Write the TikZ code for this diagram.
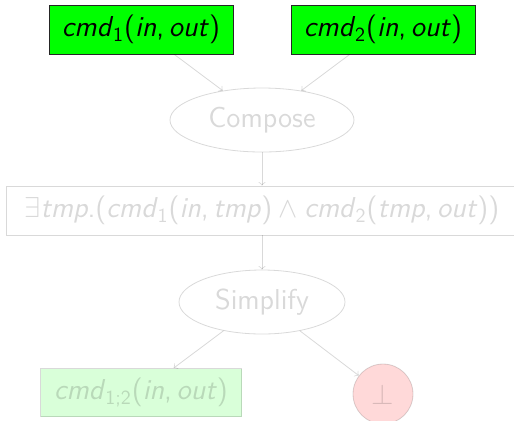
\documentclass[tikz,border=0pt]{standalone}
\usetikzlibrary{shapes.geometric}
\begin{document}
\begin{tikzpicture}[x=0.5pt,y=-0.5pt,
  font=\sffamily\fontsize{14.4}{17}\selectfont,
  hotbox/.style={draw=black!85, fill=green, minimum width=92pt, minimum height=24.5pt, inner sep=1pt},
  softbox/.style={draw=black, minimum height=24.5pt, inner sep=1pt},
  oval/.style={draw=black, ellipse, minimum height=32pt, inner sep=1pt},
  conn/.style={->, draw=black, line width=0.4pt}]
\useasboundingbox (0,0) rectangle (514,420);
\node[hotbox] (c1) at (141,29.5) {\textit{cmd}\textsubscript{1}(\textit{in},\hspace{2.4pt}\textit{out})};
\node[hotbox] (c2) at (383,29.5) {\textit{cmd}\textsubscript{2}(\textit{in},\hspace{2.4pt}\textit{out})};
\begin{scope}[opacity=0.15]
\node[oval, minimum width=92pt] (comp) at (262,120) {Compose};
\node[softbox, minimum width=256pt] (ex) at (262,210.5) {$\exists$\textit{tmp}.(\textit{cmd}\textsubscript{1}(\textit{in},\hspace{2.4pt}\textit{tmp})\hspace{3.2pt}$\wedge$\hspace{3.2pt}\textit{cmd}\textsubscript{2}(\textit{tmp},\hspace{2.4pt}\textit{out}))};
\node[oval, minimum width=83pt] (simp) at (262,302) {Simplify};
\node[softbox, fill=green, minimum width=100.5pt, minimum height=24pt] (res) at (141,392.5) {\textit{cmd}\textsubscript{1;2}(\textit{in},\hspace{2.4pt}\textit{out})};
\node[draw=black, fill=red, circle, minimum size=30pt, inner sep=0pt] (bot) at (383,394) {$\bot$};
\draw[conn] (c1) -- (comp);
\draw[conn] (c2) -- (comp);
\draw[conn] (comp) -- (ex);
\draw[conn] (ex) -- (simp);
\draw[conn] (simp) -- (res);
\draw[conn] (simp) -- (bot);
\end{scope}
\end{tikzpicture}
\end{document}
